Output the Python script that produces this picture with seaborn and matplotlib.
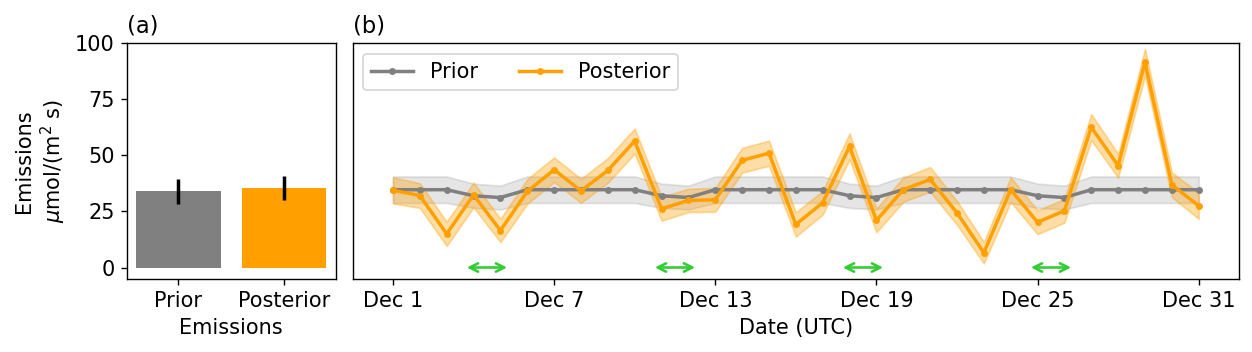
import pandas as pd
import matplotlib.pyplot as plt
import matplotlib.dates as mdates
import seaborn as sns
import numpy as np

# daily emissions, Dec 2021
dates = pd.date_range('2021-12-01', '2021-12-31', freq='D')

prior = [34.7, 34.7, 34.7, 32.0, 31.2, 34.7, 34.7, 34.7, 34.7, 34.7,
         32.0, 31.2, 34.7, 34.7, 34.7, 34.7, 34.7, 32.0, 31.2, 34.7,
         34.7, 34.7, 34.7, 34.7, 32.0, 31.2, 34.7, 34.7, 34.7, 34.7, 34.7]
prior_unc = [5.9, 5.9, 5.9, 5.4, 5.3, 5.9, 5.9, 5.9, 5.9, 5.9,
             5.4, 5.3, 5.9, 5.9, 5.9, 5.9, 5.9, 5.4, 5.3, 5.9,
             5.9, 5.9, 5.9, 5.9, 5.4, 5.3, 5.9, 5.9, 5.9, 5.9, 5.9]

posterior = [34.4, 32.1, 15.0, 32.4, 16.5, 33.9, 43.6, 34.2, 43.3, 56.4,
             26.2, 29.9, 30.2, 47.8, 51.0, 19.2, 28.9, 54.0, 21.0, 34.7,
             39.3, 24.4, 6.6, 34.7, 20.2, 25.3, 62.6, 45.4, 91.5, 36.9, 27.5]
posterior_unc = [5.8, 5.5, 5.4, 5.5, 5.2, 5.5, 5.5, 5.3, 5.5, 5.6,
                 5.3, 5.2, 5.3, 5.5, 5.6, 5.4, 5.3, 5.8, 5.3, 5.4,
                 5.5, 5.3, 4.8, 5.5, 5.3, 5.3, 5.8, 5.3, 6.0, 5.5, 5.8]

# totals for panel (a)
totals_names = ['Prior', 'Posterior']
totals = [33.9, 35.6]
totals_err = [5.6, 5.4]

weekends = ['2021-12-04', '2021-12-11', '2021-12-18', '2021-12-25']
tick_days = ['2021-12-01', '2021-12-07', '2021-12-13', '2021-12-19',
             '2021-12-25', '2021-12-31']

c_prior = 'gray'
c_post = '#ffa000'

plt.rcParams['font.family'] = ['DejaVu Sans']
plt.rcParams['font.size'] = 12

fig = plt.figure(figsize=(10.016, 2.816), dpi=125)
ax1 = fig.add_axes([0.1012, 0.2082, 0.1669, 0.6688])
ax2 = fig.add_axes([0.2817, 0.2082, 0.7079, 0.6688])

# (a) totals
df_tot = pd.DataFrame({'name': totals_names, 'val': totals})
sns.barplot(data=df_tot, x='name', y='val', hue='name',
            palette=[c_prior, c_post], saturation=1, legend=False, ax=ax1)
ax1.errorbar(range(len(totals)), totals, yerr=totals_err, fmt='none',
             ecolor='black', elinewidth=2, capsize=0)
ax1.set_ylim(-5, 100)
ax1.set_yticks([0, 25, 50, 75, 100])
ax1.set_xlabel('Emissions')
ax1.set_ylabel('Emissions\n$\\mu$mol/(m$^2$ s)')
ax1.set_title('(a)', loc='left', fontsize=13)

# (b) daily series
df = pd.DataFrame({'date': dates, 'prior': prior, 'posterior': posterior,
                   'prior_unc': prior_unc, 'posterior_unc': posterior_unc})

ax2.fill_between(df['date'], df['prior'] - df['prior_unc'],
                 df['prior'] + df['prior_unc'], color=c_prior, alpha=0.2)
ax2.fill_between(df['date'], df['posterior'] - df['posterior_unc'],
                 df['posterior'] + df['posterior_unc'], color=c_post, alpha=0.35)
sns.lineplot(data=df, x='date', y='prior', color=c_prior, marker='o',
             markersize=4, markeredgewidth=0, linewidth=2, label='Prior', ax=ax2)
sns.lineplot(data=df, x='date', y='posterior', color=c_post, marker='o',
             markersize=4, markeredgewidth=0, linewidth=2, label='Posterior', ax=ax2)

for w in weekends:
    d = pd.Timestamp(w)
    ax2.annotate('', xy=(d - pd.Timedelta(hours=6), 0),
                 xytext=(d + pd.Timedelta(hours=30), 0),
                 arrowprops=dict(arrowstyle='<->', color='limegreen', lw=1.5,
                                 shrinkA=0, shrinkB=0, mutation_scale=12))

ax2.set_ylim(-5, 100)
ax2.tick_params(left=False, labelleft=False)
ax2.set_ylabel('')
ax2.set_xlabel('Date (UTC)')
ax2.set_xticks(pd.to_datetime(tick_days))
ax2.xaxis.set_major_formatter(mdates.DateFormatter('%b %-d'))
ax2.set_xlim(pd.Timestamp('2021-12-01') - pd.Timedelta(hours=36),
             pd.Timestamp('2021-12-31') + pd.Timedelta(hours=36))
ax2.legend(loc='upper left', ncol=2, fontsize=12)
ax2.set_title('(b)', loc='left', fontsize=13)

plt.savefig('out.png', dpi=125)
